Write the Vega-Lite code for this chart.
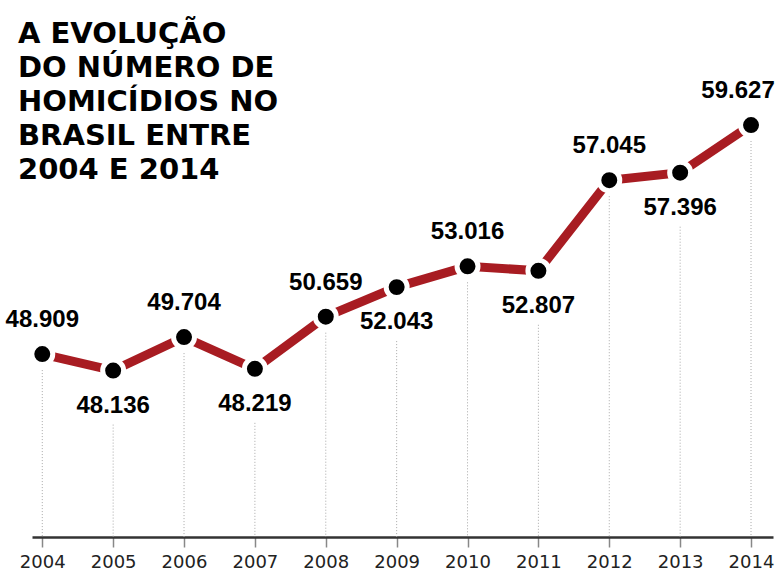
{
  "$schema": "https://vega.github.io/schema/vega-lite/v6.json",
  "width": 741,
  "height": 527,
  "autosize": {"type": "none"},
  "padding": {"left": 32, "top": 10, "right": 6, "bottom": 36},
  "background": "white",
  "config": {
    "view": {"stroke": null},
    "locale": {"number": {"decimal": ",", "thousands": ".", "grouping": [3], "currency": ["R$", ""]}}
  },
  "title": {
    "text": ["A EVOLUÇÃO", "DO NÚMERO DE", "HOMICÍDIOS NO", "BRASIL ENTRE", "2004 E 2014"],
    "anchor": "start",
    "frame": "group",
    "orient": "top",
    "baseline": "top",
    "font": "DejaVu Sans",
    "fontWeight": "bold",
    "fontSize": 29,
    "lineHeight": 34,
    "color": "#000000",
    "dx": -14,
    "offset": 0,
    "dy": 175
  },
  "data": {
    "values": [
      {"ano": 2004, "homicidios": 48909},
      {"ano": 2005, "homicidios": 48136},
      {"ano": 2006, "homicidios": 49704},
      {"ano": 2007, "homicidios": 48219},
      {"ano": 2008, "homicidios": 50659},
      {"ano": 2009, "homicidios": 52043},
      {"ano": 2010, "homicidios": 53016},
      {"ano": 2011, "homicidios": 52807},
      {"ano": 2012, "homicidios": 57045},
      {"ano": 2013, "homicidios": 57396},
      {"ano": 2014, "homicidios": 59627}
    ]
  },
  "encoding": {
    "x": {
      "field": "ano",
      "type": "quantitative",
      "scale": {"domain": [2003.855, 2014.31], "nice": false, "zero": false},
      "axis": {
        "values": [2004, 2005, 2006, 2007, 2008, 2009, 2010, 2011, 2012, 2013, 2014],
        "format": "d",
        "title": null,
        "grid": false,
        "domainColor": "#333333",
        "domainWidth": 2.5,
        "tickColor": "#888888",
        "tickWidth": 1.5,
        "tickSize": 10,
        "labelFont": "DejaVu Sans",
        "labelFontSize": 18,
        "labelColor": "#222222",
        "labelPadding": 6,
        "labelFlush": false
      }
    },
    "y": {
      "field": "homicidios",
      "type": "quantitative",
      "scale": {"domain": [40350, 65010], "nice": false, "zero": false},
      "axis": null
    }
  },
  "layer": [
    {
      "transform": [{"filter": "datum.ano % 2 == 0"}],
      "mark": {"type": "rule", "color": "#a8a8a8", "strokeWidth": 1, "strokeDash": [1, 2], "yOffset": 16},
      "encoding": {"y2": {"datum": 40350}}
    },
    {
      "transform": [{"filter": "datum.ano % 2 == 1"}],
      "mark": {"type": "rule", "color": "#a8a8a8", "strokeWidth": 1, "strokeDash": [1, 2], "yOffset": 54},
      "encoding": {"y2": {"datum": 40350}}
    },
    {
      "mark": {"type": "line", "color": "#a81c22", "strokeWidth": 9, "strokeCap": "butt"}
    },
    {
      "mark": {"type": "point", "shape": "circle", "filled": true, "size": 440, "fill": "#000000", "stroke": "#ffffff", "strokeWidth": 5, "opacity": 1}
    },
    {
      "transform": [{"filter": "datum.ano % 2 == 0 && datum.ano < 2014"}],
      "mark": {"type": "text", "font": "Liberation Sans", "fontWeight": "bold", "fontSize": 24, "color": "#000000", "baseline": "alphabetic", "dy": -27},
      "encoding": {"text": {"field": "homicidios", "type": "quantitative", "format": ",d"}}
    },
    {
      "transform": [{"filter": "datum.ano == 2014"}],
      "mark": {"type": "text", "font": "Liberation Sans", "fontWeight": "bold", "fontSize": 24, "color": "#000000", "baseline": "alphabetic", "dy": -27, "dx": -13},
      "encoding": {"text": {"field": "homicidios", "type": "quantitative", "format": ",d"}}
    },
    {
      "transform": [{"filter": "datum.ano % 2 == 1"}],
      "mark": {"type": "text", "font": "Liberation Sans", "fontWeight": "bold", "fontSize": 24, "color": "#000000", "baseline": "top", "dy": 23},
      "encoding": {"text": {"field": "homicidios", "type": "quantitative", "format": ",d"}}
    }
  ]
}
